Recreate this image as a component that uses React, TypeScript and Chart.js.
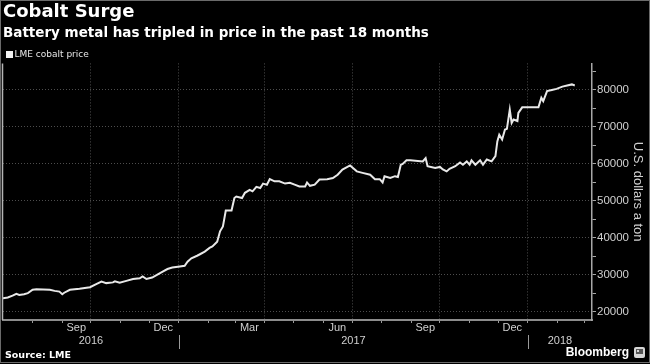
import { useEffect, useRef } from 'react';
import { Chart, registerables } from 'chart.js';

Chart.register(...registerables);

const FONT = '"Liberation Sans", Arial, sans-serif';
const HEAD_FONT = '"DejaVu Sans", Verdana, sans-serif';
Chart.defaults.font.family = FONT;

// ---- text ----
const titleText = 'Cobalt Surge';
const subtitleText = 'Battery metal has tripled in price in the past 18 months';
const seriesLabel = 'LME cobalt price';
const yAxisTitle = 'U.S. dollars a ton';
const sourceText = 'Source: LME';
const brandText = 'Bloomberg';

// ---- data: days since startDate, LME cobalt price (USD/ton) ----
const startDate = '2016-07-01';
const dayOffsets = [
  0, 5, 10, 14, 17, 22, 26, 31, 35, 49, 54, 59, 62, 64, 70, 80, 91, 98, 103, 108,
  115, 117, 122, 129, 136, 143, 146, 150, 156, 161, 167, 172, 177, 185, 190, 193, 197, 203, 206, 211,
  216, 219, 224, 227, 230, 233, 239, 242, 244, 250, 253, 258, 261, 265, 269, 272, 276, 279, 284, 289,
  295, 300, 305, 310, 316, 318, 321, 326, 331, 339, 345, 350, 355, 363, 366, 370, 376, 384, 389, 394,
  397, 399, 405, 410, 413, 416, 418, 422, 426, 439, 442, 444, 452, 457, 460, 464, 467, 473, 478, 481,
  485, 488, 490, 494, 499, 502, 506, 511, 515, 517, 519, 522, 525, 527, 530, 532, 534, 538, 539, 543,
  560, 563, 565, 569, 574, 579, 585, 590, 595, 598,
];
const prices = [
  23700, 23900, 24400, 24900, 24600, 24800, 25100, 26000, 26150, 26000, 25700, 25500, 24800, 25200, 26000, 26300, 26700, 27600, 28200, 27800,
  28000, 28300, 27900, 28400, 28900, 29100, 29600, 28900, 29300, 30000, 30900, 31600, 32000, 32300, 32500, 33600, 34500, 35200, 35600, 36300,
  37300, 37700, 39000, 41800, 43100, 47400, 47400, 50800, 51200, 50800, 52200, 53000, 52600, 53800, 53500, 54700, 54400, 55900, 55300, 55300,
  54700, 54900, 54400, 53900, 53900, 55000, 54100, 54400, 55800, 55900, 56200, 57100, 58500, 59600, 58900, 58000, 57600, 57100, 55900, 55900,
  55000, 56700, 56200, 56700, 56500, 59800, 60000, 61000, 61000, 60700, 61600, 59400, 58900, 59200, 58500, 58000, 58700, 59400, 60400, 59800,
  60700, 59800, 61000, 59800, 61000, 59800, 61200, 60700, 62100, 66100, 67900, 66600, 69300, 69500, 74700, 71100, 72000, 71600, 73800, 75300,
  75300, 77900, 77000, 79700, 80000, 80300, 80900, 81200, 81500, 81200,
];

// ---- axes ----
const xEndDate = '2018-03-09';
const monthTickDates = [
  '2016-08-01', '2016-09-01', '2016-10-01', '2016-11-01', '2016-12-01', '2017-01-01', '2017-02-01',
  '2017-03-01', '2017-04-01', '2017-05-01', '2017-06-01', '2017-07-01', '2017-08-01', '2017-09-01',
  '2017-10-01', '2017-11-01', '2017-12-01', '2018-01-01', '2018-02-01', '2018-03-01',
];
const monthLabelDates = ['2016-09-01', '2016-12-01', '2017-03-01', '2017-06-01', '2017-09-01', '2017-12-01'];
const monthLabels = ['Sep', 'Dec', 'Mar', 'Jun', 'Sep', 'Dec'];
const gridDates = ['2016-10-01', '2017-01-01', '2017-04-01', '2017-07-01', '2017-10-01', '2018-01-01'];
const yearLabels = ['2016', '2017', '2018'];
const yearStartDates = ['2016-01-01', '2017-01-01', '2018-01-01'];
const yMajorTicks = [20000, 30000, 40000, 50000, 60000, 70000, 80000];
const yMinorTicks = [25000, 35000, 45000, 55000, 65000, 75000, 85000];
const yMin = 17830;
const yMax = 87180;

const START_MS = Date.parse(startDate + 'T00:00:00Z');
const dayOf = (iso: string) => Math.round((Date.parse(iso + 'T00:00:00Z') - START_MS) / 86400000);

const monthTickDays = monthTickDates.map(dayOf);
const monthLabelDays = monthLabelDates.map(dayOf);
const gridDays = gridDates.map(dayOf);
const xMaxDay = dayOf(xEndDate);

const decorPlugin = {
  id: 'decor',
  beforeDraw(chart: any) {
    const ctx = chart.ctx;
    ctx.save();
    ctx.fillStyle = '#000';
    ctx.fillRect(0, 0, chart.width, chart.height);
    ctx.restore();
  },
  afterDraw(chart: any) {
    const ctx = chart.ctx;
    const xs = chart.scales.x;
    const area = chart.chartArea;
    ctx.save();

    // legend
    const ds = chart.data.datasets[0];
    ctx.fillStyle = '#f2f2f2';
    ctx.fillRect(6, 51, 7, 7);
    ctx.font = `9px ${HEAD_FONT}`;
    ctx.fillStyle = '#e6e6e6';
    ctx.textAlign = 'left';
    ctx.textBaseline = 'middle';
    ctx.fillText(ds.label, 14.5, 55);

    // left plot border
    ctx.strokeStyle = '#b5b5b5';
    ctx.lineWidth = 1.5;
    ctx.beginPath();
    ctx.moveTo(area.left - 0.5, area.top);
    ctx.lineTo(area.left - 0.5, area.bottom);
    ctx.stroke();

    // year labels and separators
    ctx.font = `11px ${FONT}`;
    ctx.fillStyle = '#d0d0d0';
    ctx.textAlign = 'center';
    ctx.textBaseline = 'middle';
    yearLabels.forEach((lab, i) => {
      const s = Math.max(dayOf(yearStartDates[i]), 0);
      const e = i + 1 < yearStartDates.length ? Math.min(dayOf(yearStartDates[i + 1]), xMaxDay) : xMaxDay;
      const cx = (xs.getPixelForValue(s) + xs.getPixelForValue(e)) / 2;
      ctx.fillText(lab, cx, 340.5);
      if (i > 0) {
        const px = Math.round(xs.getPixelForValue(s)) + 0.5;
        ctx.strokeStyle = '#9a9a9a';
        ctx.lineWidth = 1;
        ctx.beginPath();
        ctx.moveTo(px, 335);
        ctx.lineTo(px, 349);
        ctx.stroke();
      }
    });

    // footer
    ctx.font = `bold 9.5px ${HEAD_FONT}`;
    ctx.fillStyle = '#ffffff';
    ctx.textAlign = 'left';
    ctx.fillText(sourceText, 5, 356);
    ctx.font = `bold 12px ${FONT}`;
    ctx.textAlign = 'right';
    ctx.fillText(brandText, 629, 353);
    // small brand icon
    ctx.fillStyle = '#d6d6d6';
    ctx.beginPath();
    ctx.roundRect(634, 347, 11, 11, 2);
    ctx.fill();
    ctx.fillStyle = '#555';
    ctx.fillRect(636, 349, 7, 5);
    ctx.fillStyle = '#d6d6d6';
    ctx.fillRect(637, 350, 2, 2);

    // frame
    ctx.strokeStyle = '#6a6a6a';
    ctx.lineWidth = 1;
    ctx.strokeRect(0.5, 0.5, chart.width - 1, chart.height - 2);
    ctx.restore();
  },
};

export default function App() {
  const ref = useRef<HTMLCanvasElement | null>(null);

  useEffect(() => {
    if (!ref.current) return;
    const chart = new Chart(ref.current, {
      type: 'line',
      data: {
        datasets: [
          {
            label: seriesLabel,
            data: dayOffsets.map((d, i) => ({ x: d, y: prices[i] })),
            borderColor: '#e8e8e8',
            backgroundColor: '#e8e8e8',
            borderWidth: 2,
            pointRadius: 0,
            tension: 0,
          },
        ],
      },
      options: {
        animation: false,
        responsive: false,
        devicePixelRatio: 1,
        layout: { padding: { left: 3, right: 0, top: 0, bottom: 0 } },
        plugins: {
          legend: { display: false },
          tooltip: { enabled: false },
          title: {
            display: true,
            text: titleText,
            align: 'start',
            color: '#ffffff',
            font: { family: HEAD_FONT, size: 18, weight: 'bold', lineHeight: 1.2 },
            padding: { top: 2, bottom: 0 },
          },
          subtitle: {
            display: true,
            text: subtitleText,
            align: 'start',
            color: '#ffffff',
            font: { family: HEAD_FONT, size: 13.5, weight: 'bold', lineHeight: 1.2 },
            padding: { top: 1.5, bottom: 22.1 },
          },
        },
        scales: {
          x: {
            type: 'linear',
            min: 0,
            max: xMaxDay,
            afterBuildTicks: (s: any) => {
              s.ticks = monthTickDays.map((v) => ({ value: v }));
            },
            afterFit: (s: any) => {
              s.height = 44;
            },
            grid: {
              color: (c: any) => (c.tick && gridDays.includes(c.tick.value) ? '#4d4d4d' : 'rgba(0,0,0,0)'),
              lineWidth: 1,
              tickColor: '#9a9a9a',
              tickLength: 3,
              tickWidth: 1,
            },
            border: { display: true, color: '#8c8c8c', width: 2, dash: [1, 2] },
            ticks: {
              autoSkip: false,
              maxRotation: 0,
              minRotation: 0,
              labelOffset: 14,
              padding: -2,
              color: '#d0d0d0',
              font: { size: 11 },
              callback: (v: any) => {
                const i = monthLabelDays.indexOf(v);
                return i >= 0 ? monthLabels[i] : '';
              },
            },
          },
          y: {
            type: 'linear',
            position: 'right',
            min: yMin,
            max: yMax,
            afterBuildTicks: (s: any) => {
              s.ticks = [...yMajorTicks, ...yMinorTicks].sort((a, b) => a - b).map((v) => ({ value: v }));
            },
            afterFit: (s: any) => {
              s.width = 58;
            },
            grid: {
              color: (c: any) => (c.tick && yMajorTicks.includes(c.tick.value) ? '#4d4d4d' : 'rgba(0,0,0,0)'),
              lineWidth: 1,
              tickColor: '#a8a8a8',
              tickLength: 4,
              tickWidth: 1,
            },
            border: { display: true, color: '#a8a8a8', width: 1.5, dash: [1, 2] },
            ticks: {
              color: '#d0d0d0',
              font: { size: 11.5 },
              padding: 1,
              callback: (v: any) => (yMajorTicks.includes(v) ? String(v) : ''),
            },
            title: {
              display: true,
              text: yAxisTitle,
              color: '#d0d0d0',
              font: { size: 13 },
              padding: { top: 5, bottom: 0 },
            },
          },
        },
      },
      plugins: [decorPlugin],
    } as any);
    return () => chart.destroy();
  }, []);

  return (
    <div style={{ position: 'fixed', left: 0, top: 0, width: 650, height: 364, background: '#000' }}>
      <canvas ref={ref} width={650} height={364} style={{ display: 'block', width: 650, height: 364 }} />
    </div>
  );
}
